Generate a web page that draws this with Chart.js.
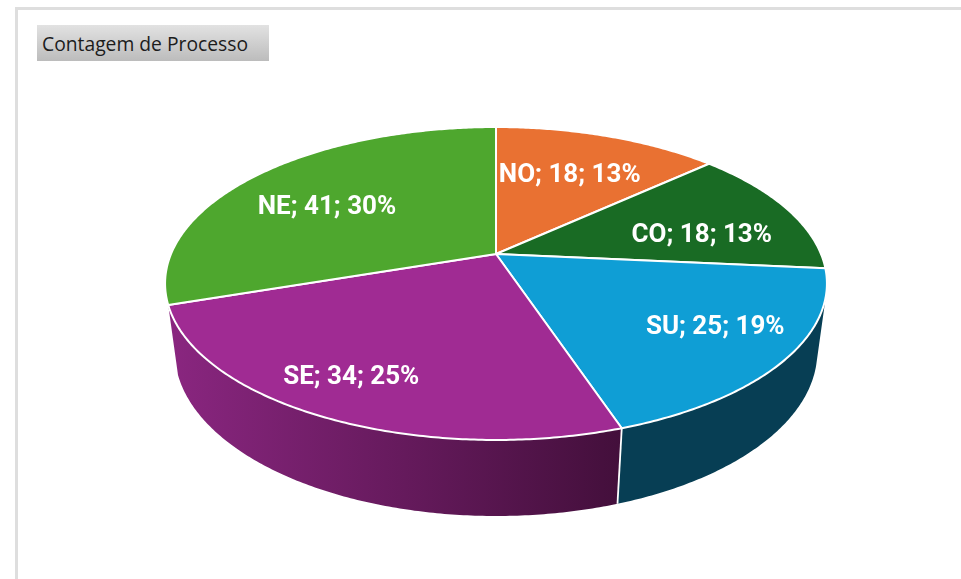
<!DOCTYPE html>
<html><head><meta charset="utf-8">
<style>
html,body{margin:0;padding:0;background:#fff;width:961px;height:579px;overflow:hidden}
#frame{position:absolute;left:15px;top:7px;width:960px;height:600px;border-left:3px solid #dedede;border-top:3px solid #dedede;box-sizing:border-box}
#title{position:absolute;left:37px;top:25px;width:232px;height:36px;background:linear-gradient(#e2e2e2,#bcbcbc);font:19.3px/37px "Open Sans",sans-serif;color:#1c1c1c;padding-left:5px;box-sizing:border-box;white-space:nowrap}
canvas{position:absolute;left:0;top:0}
</style>
<script src="https://cdn.jsdelivr.net/npm/chart.js@4/dist/chart.umd.min.js"></script>
</head><body>
<div id="frame"></div>
<canvas id="c" width="961" height="579"></canvas>
<div id="title">Contagem de Processo</div>
<script>
const categories = ['NO','CO','SU','SE','NE'];
const counts = [18,18,25,34,41];
const percents = [13,13,19,25,30];
const topColors = ['#E97132','#196B24','#0F9ED5','#A02B93','#4EA72E'];
const wallLight = [null,null,'#073E54','#8A2680',null];
const wallDark  = [null,null,'#073E54','#430F3B',null];
const labelShift = [[-3,2],[13,12],[40,8],[-39,25],[-9,6.5]];

// perspective of the flat pie: tilt, foreshortening and wall depth
const SX = 1.2795, SY = 0.5941, TILT = -0.1885, E = 0.0289, DZ = 0.2728;
function project(el, a, f, w){
  const u = Math.cos(a)*f, v = Math.sin(a)*f, d = 1 + TILT*v + E*w, R = el.outerRadius;
  return {x: el.x + R*SX*u/d, y: el.y + R*(SY*v + DZ*w)/d};
}
Chart.ArcElement.prototype.draw = function(ctx){
  const o = this.options, n = Math.ceil((this.endAngle-this.startAngle)/0.01);
  ctx.save();
  ctx.beginPath();
  const c = project(this, 0, 0, 0);
  ctx.moveTo(c.x, c.y);
  for(let i=0;i<=n;i++){
    const p = project(this, this.startAngle+(this.endAngle-this.startAngle)*i/n, 1, 0);
    ctx.lineTo(p.x, p.y);
  }
  ctx.closePath();
  ctx.fillStyle = o.backgroundColor; ctx.fill();
  ctx.lineJoin = 'round'; ctx.strokeStyle = o.borderColor; ctx.lineWidth = o.borderWidth; ctx.stroke();
  ctx.restore();
};
const walls = {
  id:'walls',
  beforeDatasetsDraw(chart){
    const ctx = chart.ctx, arcs = chart.getDatasetMeta(0).data;
    arcs.forEach((el,i)=>{
      if(!wallLight[i]) return;
      const n = Math.ceil((el.endAngle-el.startAngle)/0.01);
      let minX=1e9,maxX=-1e9;
      ctx.beginPath();
      for(let k=0;k<n;k++){
        const a0=el.startAngle+(el.endAngle-el.startAngle)*k/n, a1=el.startAngle+(el.endAngle-el.startAngle)*(k+1)/n;
        const q=[project(el,a0,1,0),project(el,a1,1,0),project(el,a1,1,1),project(el,a0,1,1)];
        let area=0; q.forEach((p,j)=>{const r=q[(j+1)%4]; area+=p.x*r.y-r.x*p.y;});
        if(area<0) q.reverse();
        q.forEach((p,j)=>{ j?ctx.lineTo(p.x,p.y):ctx.moveTo(p.x,p.y); minX=Math.min(minX,p.x); maxX=Math.max(maxX,p.x);});
        ctx.closePath();
      }
      const g=ctx.createLinearGradient(minX,0,maxX,0);
      g.addColorStop(0,wallLight[i]); g.addColorStop(1,wallDark[i]);
      ctx.fillStyle=g; ctx.fill();
    });
    arcs.forEach((el,i)=>{
      if(!wallLight[i] || !wallLight[i+1]) return;
      const a=project(el,el.endAngle,1,0), b=project(el,el.endAngle,1,1);
      ctx.beginPath(); ctx.moveTo(a.x,a.y); ctx.lineTo(b.x,b.y);
      ctx.strokeStyle='#fff'; ctx.lineWidth=1.8; ctx.stroke();
    });
  }
};
const sliceLabels = {
  id:'sliceLabels',
  afterDatasetsDraw(chart){
    const ctx = chart.ctx;
    ctx.save();
    ctx.font = '700 26px Roboto, sans-serif';
    ctx.fillStyle = '#fff'; ctx.textAlign='center'; ctx.textBaseline='middle';
    chart.getDatasetMeta(0).data.forEach((el,i)=>{
      const p = project(el,(el.startAngle+el.endAngle)/2,0.65,0);
      ctx.fillText(categories[i]+'; '+counts[i]+'; '+percents[i]+'%', p.x+labelShift[i][0], p.y+labelShift[i][1]);
    });
    ctx.restore();
  }
};
new Chart(document.getElementById('c'),{
  type:'pie',
  data:{labels:categories,datasets:[{data:counts,backgroundColor:topColors,borderColor:'#fff',borderWidth:2,radius:254}]},
  options:{responsive:false,animation:false,events:[],
    layout:{padding:{left:31,bottom:71}},
    plugins:{legend:{display:false},tooltip:{enabled:false},title:{display:false}}},
  plugins:[walls,sliceLabels]
});
</script>
</body></html>
